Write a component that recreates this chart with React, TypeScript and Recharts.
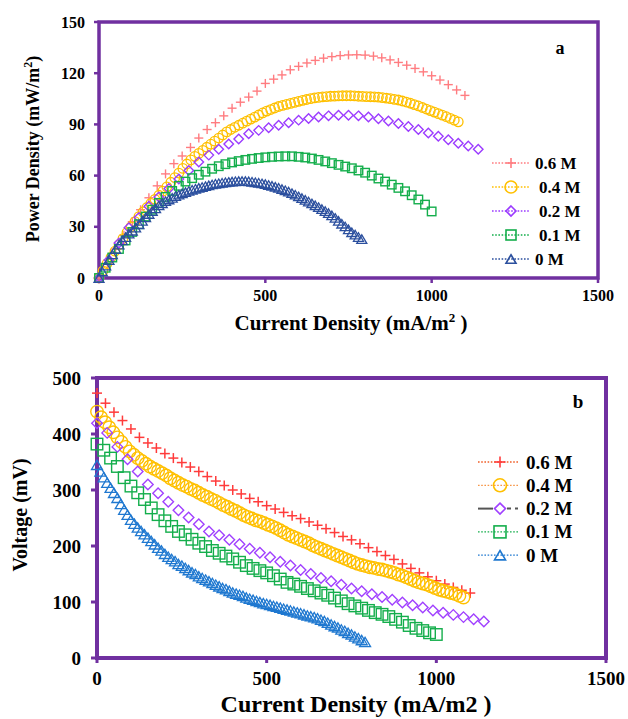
import React from 'react';
import { ScatterChart, Scatter, XAxis, YAxis, ReferenceArea, Legend } from 'recharts';

const FONT = '"Liberation Serif", "Times New Roman", Times, serif';
const FRAME = '#7030A0';

// Current density (mA/m2) for each electrolyte concentration
const current06 = [0, 25, 50, 75, 100, 125, 150, 175, 200, 225, 250, 275, 300, 325, 350, 375, 400, 425, 450, 475, 500, 525, 550, 575, 600, 625, 650, 675, 700, 725, 750, 775, 800, 825, 850, 875, 900, 925, 950, 975, 1000, 1025, 1050, 1075, 1100];
const current04 = [0, 12, 24, 36, 48, 60, 72, 84, 96, 108, 120, 132, 144, 156, 168, 180, 192, 204, 216, 228, 240, 252, 264, 276, 288, 300, 312, 324, 336, 348, 360, 372, 384, 396, 408, 420, 432, 444, 456, 468, 480, 492, 504, 516, 528, 540, 552, 564, 576, 588, 600, 612, 624, 636, 648, 660, 672, 684, 696, 708, 720, 732, 744, 756, 768, 780, 792, 804, 816, 828, 840, 852, 864, 876, 888, 900, 912, 924, 936, 948, 960, 972, 984, 996, 1008, 1020, 1032, 1044, 1056, 1068, 1080];
const current02 = [0, 30, 60, 90, 120, 150, 180, 210, 240, 270, 300, 330, 360, 390, 420, 450, 480, 510, 540, 570, 600, 630, 660, 690, 720, 750, 780, 810, 840, 870, 900, 930, 960, 990, 1020, 1050, 1080, 1110, 1140];
const current01 = [0, 20, 40, 60, 80, 100, 120, 140, 160, 180, 200, 220, 240, 260, 280, 300, 320, 340, 360, 380, 400, 420, 440, 460, 480, 500, 520, 540, 560, 580, 600, 620, 640, 660, 680, 700, 720, 740, 760, 780, 800, 820, 840, 860, 880, 900, 920, 940, 960, 980, 1000];
const current00 = [0, 10, 20, 30, 40, 50, 60, 70, 80, 90, 100, 110, 120, 130, 140, 150, 160, 170, 180, 190, 200, 210, 220, 230, 240, 250, 260, 270, 280, 290, 300, 310, 320, 330, 340, 350, 360, 370, 380, 390, 400, 410, 420, 430, 440, 450, 460, 470, 480, 490, 500, 510, 520, 530, 540, 550, 560, 570, 580, 590, 600, 610, 620, 630, 640, 650, 660, 670, 680, 690, 700, 710, 720, 730, 740, 750, 760, 770, 780, 790];

// Power density (mW/m2)
const power06 = [0, 8.5, 17, 25, 33, 40, 47, 54, 61, 67, 71.5, 76.5, 82, 87, 91, 95, 99.5, 103, 106, 109.5, 114, 116.5, 119, 122, 124, 126, 127.5, 128.8, 129.7, 130.3, 130.7, 130.8, 130.6, 130, 129, 127.8, 126.3, 124.7, 122.8, 120.8, 118.5, 116, 113.3, 110.2, 107];
const power04 = [0, 4.2, 8.4, 12, 15.7, 19.5, 23.1, 26.6, 30, 33,
  36, 38.7, 41.3, 43.7, 46.1, 48.5, 50.9, 53.4, 56.1, 58.8,
  61.5, 64.2, 66.8, 69.2, 71.3, 73, 74.8, 76.6, 78.4, 80.2,
  82, 83.8, 85.6, 87, 88.3, 89.5, 90.7, 91.9, 93.1, 94.3,
  95.5, 96.7, 97.8, 98.7, 99.6, 100.5, 101.1, 101.7, 102.3, 102.9,
  103.5, 104.1, 104.6, 105.1, 105.5, 105.8, 106.1, 106.3, 106.5, 106.6,
  106.7, 106.8, 106.8, 106.8, 106.7, 106.5, 106.4, 106.3, 106.2, 106.1,
  106, 105.7, 105.4, 105.1, 104.7, 104.3, 103.7, 103.1, 102.4, 101.6,
  100.8, 99.9, 99, 98.1, 97.2, 96.3, 95.4, 94.5, 93.5, 92.5,
  91.5];
const power02 = [0, 10.5, 20.5, 29.5, 35.5, 42, 47.5, 52.5, 58, 63, 68, 72, 75.5, 78.5, 81.5, 84.5, 86.5, 88, 89.5, 91, 92.5, 93.5, 94.3, 95, 95.3, 95.3, 95, 94.3, 93.3, 92, 90.5, 88.8, 87, 85, 83, 81, 79, 77.3, 75.5];
const power01 = [0, 6, 12, 17, 22, 27, 31.5, 36, 40, 44, 47.5, 51, 54, 56.5, 58.5, 60.5, 62.3, 64, 65.5, 66.7, 67.7, 68.5, 69.2, 69.8, 70.3, 70.7, 71, 71.2, 71.3, 71.3, 71, 70.6, 70, 69.2, 68.3, 67.3, 66.3, 65.3, 64.3, 63, 61.7, 60, 58.3, 56.5, 54.7, 52.8, 50.8, 48.5, 46, 43, 39];
const power00 = [0, 3.8, 7.2, 10.5, 13.8, 17, 19.5, 22, 24, 26,
  27.7, 29.5, 31.5, 33.5, 35.5, 37.5, 39.2, 40.8, 42.5, 43.8,
  45, 46, 47, 48, 48.8, 49.6, 50.3, 51, 51.7, 52.3,
  52.8, 53.3, 53.8, 54.3, 54.8, 55.2, 55.5, 55.8, 56.1, 56.3,
  56.5, 56.7, 56.8, 56.8, 56.8, 56.6, 56.4, 56.1, 55.8, 55.4,
  55, 54.5, 54, 53.4, 52.8, 52.1, 51.4, 50.6, 49.7, 48.8,
  47.8, 46.8, 45.8, 44.8, 43.7, 42.6, 41.5, 40.4, 39.2, 38,
  36.7, 35.2, 33.5, 31.8, 30.2, 28.5, 26.8, 25.4, 24, 22.8];

// Voltage (mV)
const voltage06 = [473, 455, 439, 424, 409, 394, 384, 375, 365, 357, 349, 341, 333, 324, 316, 308, 300, 293, 285, 279, 272, 266, 260, 254, 249, 243, 237, 231, 224, 217, 211, 204, 197, 190, 183, 176, 168, 160, 152, 145, 138, 132, 126, 121, 116];
const voltage04 = [440, 430, 421, 412, 403, 394, 386, 377, 369, 363,
  357, 352, 347, 342, 338, 334, 330, 326, 321, 317,
  313, 309, 306, 302, 299, 295, 291, 288, 284, 281,
  277, 273, 270, 266, 263, 259, 255, 252, 249, 246,
  244, 241, 238, 235, 232, 228, 224, 220, 217, 214,
  211, 208, 205, 201, 198, 195, 192, 189, 186, 183,
  180, 177, 174, 171, 168, 166, 164, 162, 161, 159,
  158, 156, 154, 152, 149, 147, 144, 141, 138, 135,
  133, 131, 128, 125, 122, 120, 118, 116, 114, 111,
  108];
const voltage02 = [419, 402, 377, 355, 333, 310, 294, 279, 264, 251, 239, 226, 219, 211, 203, 195, 188, 180, 172, 165, 157, 150, 143, 137, 131, 124, 119, 114, 109, 104, 99, 94, 90, 85, 81, 77, 73, 69, 65];
const voltage01 = [382, 371, 357, 342, 322, 307, 295, 283, 268, 256, 245, 235, 226, 220, 212, 205, 199, 192, 187, 182, 177, 171, 165, 160, 156, 152, 147, 141, 135, 132, 128, 124, 120, 116, 112, 107, 102, 97, 93, 89, 85, 81, 78, 74, 69, 64, 58, 53, 49, 45, 42];
const voltage00 = [345, 333, 323, 313, 304, 295, 286, 275, 265, 256,
  247, 240, 233, 227, 221, 215, 209, 203, 197, 192,
  186, 181, 177, 173, 168, 165, 161, 157, 153, 150,
  146, 143, 140, 137, 134, 131, 128, 125, 123, 120,
  117, 115, 113, 111, 108, 106, 104, 102, 100, 98,
  96.5, 95, 93, 91.5, 90, 88, 86.5, 85, 83, 81.5,
  80, 78, 76, 74.5, 73, 71, 68.5, 66, 63, 60,
  57, 54.5, 51, 48.5, 45, 42, 38.5, 35.5, 32, 28.5];

const xTicks = [0, 500, 1000, 1500];
const powerTicks = [0, 30, 60, 90, 120, 150];
const voltageTicks = [0, 100, 200, 300, 400, 500];

type Pt = { x: number; y: number };
const zip = (xs: number[], ys: number[]): Pt[] => xs.map((x, i) => ({ x, y: ys[i] }));

type Kind = 'plus' | 'circle' | 'diamond' | 'square' | 'triangle';

function Mark({ kind, cx, cy, size, color, sw }: { kind: Kind; cx: number; cy: number; size: number; color: string; sw: number }) {
  if (cx == null || cy == null || isNaN(cx) || isNaN(cy)) return null;
  const s = size / 2;
  const common = { fill: 'none', stroke: color, strokeWidth: sw };
  switch (kind) {
    case 'plus':
      return (
        <g {...common}>
          <line x1={cx - s} y1={cy} x2={cx + s} y2={cy} />
          <line x1={cx} y1={cy - s} x2={cx} y2={cy + s} />
        </g>
      );
    case 'circle':
      return <circle cx={cx} cy={cy} r={s} {...common} />;
    case 'diamond':
      return <polygon points={`${cx},${cy - s} ${cx + s},${cy} ${cx},${cy + s} ${cx - s},${cy}`} {...common} />;
    case 'square':
      return <rect x={cx - s} y={cy - s} width={size} height={size} {...common} />;
    case 'triangle': {
      const h = s * 0.85;
      return <polygon points={`${cx},${cy - h} ${cx + s},${cy + h} ${cx - s},${cy + h}`} {...common} strokeLinejoin="miter" />;
    }
  }
  return null;
}

type Series = {
  name: string;
  data: Pt[];
  kind: Kind;
  color: string;
  size: number;
  sw: number;
  legendColor: string;
  legendLine: 'dot' | 'dashgray';
  textDx: number;
  legendSize: number;
};

const topSeries: Series[] = [
  { name: '0.6 M', data: zip(current06, power06), kind: 'plus', color: '#FF7C80', size: 9, sw: 1.4, legendColor: '#FF7C80', legendLine: 'dot', textDx: 0, legendSize: 10 },
  { name: '0.4 M', data: zip(current04, power04), kind: 'circle', color: '#FFC000', size: 9.5, sw: 1.3, legendColor: '#FFC000', legendLine: 'dot', textDx: 4, legendSize: 12 },
  { name: '0.2 M', data: zip(current02, power02), kind: 'diamond', color: '#9B3BFF', size: 9.5, sw: 1.4, legendColor: '#9B3BFF', legendLine: 'dot', textDx: 4, legendSize: 10 },
  { name: '0.1 M', data: zip(current01, power01), kind: 'square', color: '#14AE4C', size: 8.5, sw: 1.4, legendColor: '#14AE4C', legendLine: 'dot', textDx: 4, legendSize: 10 },
  { name: '0 M', data: zip(current00, power00), kind: 'triangle', color: '#2B4F9E', size: 10, sw: 1.3, legendColor: '#2B4F9E', legendLine: 'dot', textDx: 0, legendSize: 10 },
];

const bottomSeries: Series[] = [
  { name: '0.6 M', data: zip(current06, voltage06), kind: 'plus', color: '#FF3B3B', size: 10, sw: 1.5, legendColor: '#F0602A', legendLine: 'dot', textDx: 0, legendSize: 11 },
  { name: '0.4 M', data: zip(current04, voltage04), kind: 'circle', color: '#FFC000', size: 12.5, sw: 1.4, legendColor: '#F79646', legendLine: 'dot', textDx: 0, legendSize: 13 },
  { name: '0.2 M', data: zip(current02, voltage02), kind: 'diamond', color: '#A040FF', size: 10.5, sw: 1.4, legendColor: '#555555', legendLine: 'dashgray', textDx: 0, legendSize: 11 },
  { name: '0.1 M', data: zip(current01, voltage01), kind: 'square', color: '#14AE4C', size: 11.5, sw: 1.4, legendColor: '#14AE4C', legendLine: 'dot', textDx: 0, legendSize: 12 },
  { name: '0 M', data: zip(current00, voltage00), kind: 'triangle', color: '#1F78D0', size: 11, sw: 1.3, legendColor: '#1F78D0', legendLine: 'dot', textDx: 0, legendSize: 11 },
];

function LegendSvg({ series, width, height, y0, gap, x1, x2, mx, tx, fontSize }: {
  series: Series[]; width: number; height: number; y0: number; gap: number; x1: number; x2: number; mx: number; tx: number; fontSize: number;
}) {
  return (
    <svg width={width} height={height} style={{ display: 'block', overflow: 'visible' }}>
      {series.map((s, i) => {
        const y = y0 + gap * i;
        return (
          <g key={s.name}>
            {s.legendLine === 'dot' ? (
              <line x1={x1} y1={y} x2={x2} y2={y} stroke={s.legendColor} strokeWidth={1.3} strokeDasharray="1.6 1.6" />
            ) : (
              <g stroke={s.legendColor} strokeWidth={2}>
                <line x1={x1} y1={y} x2={mx - 7} y2={y} />
                <line x1={mx + 7} y1={y} x2={x2} y2={y} strokeDasharray="4 4" />
              </g>
            )}
            <Mark kind={s.kind} cx={mx} cy={y} size={s.legendSize} color={s.color} sw={1.6} />
            <text x={tx + s.textDx} y={y} dominantBaseline="central" fontFamily={FONT} fontWeight="bold" fontSize={fontSize} fill="#000">
              {s.name}
            </text>
          </g>
        );
      })}
    </svg>
  );
}

const tickStyle = (size: number) => ({ fill: '#000', fontSize: size, fontWeight: 'bold' as const, fontFamily: FONT });

function TopChart() {
  return (
    <ScatterChart width={628} height={345} margin={{ top: 22, right: 30, left: 0, bottom: 0 }}>
      <XAxis
        type="number"
        dataKey="x"
        domain={[0, 1500]}
        ticks={xTicks}
        height={67}
        axisLine={false}
        tickLine={{ stroke: FRAME, strokeWidth: 2.5 }}
        tickSize={5}
        tickMargin={7}
        tick={tickStyle(16)}
        label={{
          content: () => (
            <text x={351} y={330} textAnchor="middle" fontFamily={FONT} fontWeight="bold" fontSize={21} fill="#000">
              Current Density (mA/m<tspan fontSize={13} dy={-8}>2</tspan><tspan dy={8}> )</tspan>
            </text>
          ),
        }}
      />
      <YAxis
        type="number"
        dataKey="y"
        domain={[0, 150]}
        ticks={powerTicks}
        width={99}
        axisLine={false}
        tickLine={{ stroke: FRAME, strokeWidth: 2.5 }}
        tickSize={5}
        tickMargin={9}
        tick={tickStyle(16)}
        label={{
          content: () => (
            <text x={39} y={149} transform="rotate(-90, 39, 149)" textAnchor="middle" fontFamily={FONT} fontWeight="bold" fontSize={18} fill="#000">
              Power Density (mW/m<tspan fontSize={12} dy={-7}>2</tspan><tspan dy={7}>)</tspan>
            </text>
          ),
        }}
      />
      <ReferenceArea x1={0} x2={1500} y1={0} y2={150} fill="none" fillOpacity={0} stroke={FRAME} strokeWidth={3.5}
        label={{
          content: () => (
            <text x={560} y={54} textAnchor="middle" fontFamily={FONT} fontWeight="bold" fontSize={18} fill="#000">a</text>
          ),
        }}
      />
      {topSeries.map((s) => (
        <Scatter
          key={s.name}
          name={s.name}
          data={s.data}
          isAnimationActive={false}
          shape={(p: any) => <Mark kind={s.kind} cx={p.cx} cy={p.cy} size={s.size} color={s.color} sw={s.sw} />}
        />
      ))}
      <Legend
        layout="horizontal"
        verticalAlign="middle"
        align="center"
        wrapperStyle={{ left: 485, top: 150, width: 130, height: 122 }}
        content={() => (
          <LegendSvg series={topSeries} width={130} height={122} y0={13} gap={24} x1={7} x2={45} mx={26} tx={50} fontSize={17} />
        )}
      />
    </ScatterChart>
  );
}

function BottomChart() {
  return (
    <ScatterChart width={628} height={374} margin={{ top: 33, right: 22, left: 0, bottom: 0 }}>
      <XAxis
        type="number"
        dataKey="x"
        domain={[0, 1500]}
        ticks={xTicks}
        height={61}
        axisLine={false}
        tickLine={{ stroke: FRAME, strokeWidth: 3 }}
        tickSize={5}
        tickMargin={9}
        tick={tickStyle(19)}
        label={{
          content: () => (
            <text x={356} y={367} textAnchor="middle" fontFamily={FONT} fontWeight="bold" fontSize={24} fill="#000">
              Current Density (mA/m2 )
            </text>
          ),
        }}
      />
      <YAxis
        type="number"
        dataKey="y"
        domain={[0, 500]}
        ticks={voltageTicks}
        width={97}
        axisLine={false}
        tickLine={{ stroke: FRAME, strokeWidth: 3 }}
        tickSize={6}
        tickMargin={10}
        tick={tickStyle(19)}
        label={{
          content: () => (
            <text x={27} y={170} transform="rotate(-90, 27, 170)" textAnchor="middle" fontFamily={FONT} fontWeight="bold" fontSize={20} fill="#000">
              Voltage (mV)
            </text>
          ),
        }}
      />
      <ReferenceArea x1={0} x2={1500} y1={0} y2={500} fill="none" fillOpacity={0} stroke={FRAME} strokeWidth={4}
        label={{
          content: () => (
            <text x={578} y={63} textAnchor="middle" fontFamily={FONT} fontWeight="bold" fontSize={19} fill="#000">b</text>
          ),
        }}
      />
      {bottomSeries.map((s) => (
        <Scatter
          key={s.name}
          name={s.name}
          data={s.data}
          isAnimationActive={false}
          shape={(p: any) => <Mark kind={s.kind} cx={p.cx} cy={p.cy} size={s.size} color={s.color} sw={s.sw} />}
        />
      ))}
      <Legend
        layout="horizontal"
        verticalAlign="middle"
        align="center"
        wrapperStyle={{ left: 470, top: 100, width: 140, height: 126 }}
        content={() => (
          <LegendSvg series={bottomSeries} width={140} height={126} y0={17} gap={23.3} x1={8} x2={48} mx={30} tx={56} fontSize={19} />
        )}
      />
    </ScatterChart>
  );
}

export default function App() {
  return (
    <div style={{ position: 'absolute', left: 0, top: 0, width: 628, height: 719, background: '#fff', fontFamily: FONT }}>
      <div style={{ position: 'absolute', left: 0, top: 0 }}>
        <TopChart />
      </div>
      <div style={{ position: 'absolute', left: 0, top: 345 }}>
        <BottomChart />
      </div>
    </div>
  );
}
